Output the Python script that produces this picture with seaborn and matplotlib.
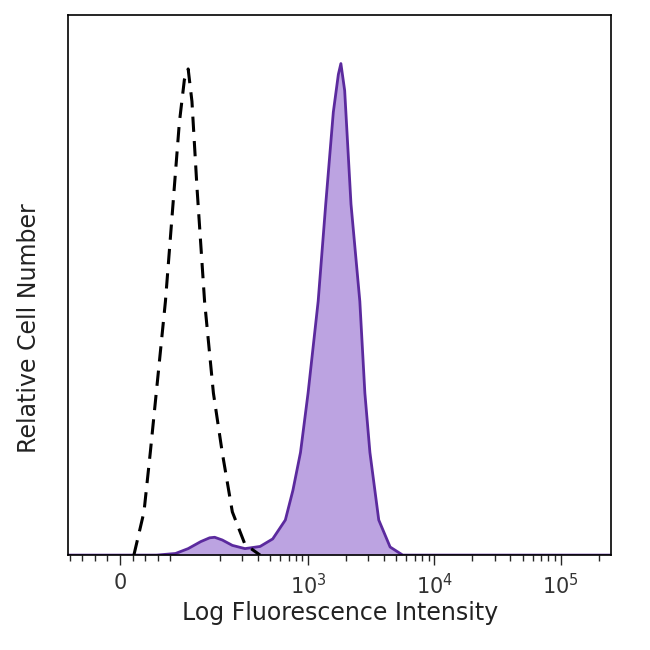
import matplotlib
matplotlib.use("Agg")
import matplotlib.pyplot as plt
import numpy as np
import seaborn as sns

sns.set_theme(style="white")

# x in display decades: 10^3 -> 3, 10^4 -> 4; "0" sits at 1.51 on the biexponential scale
iso_x = [1.62, 1.70, 1.75, 1.81, 1.87, 1.93, 1.98, 2.02, 2.05, 2.08, 2.12, 2.18, 2.25, 2.32, 2.40, 2.50, 2.62]
iso_y = [0.0, 0.08, 0.19, 0.33, 0.47, 0.65, 0.80, 0.88, 0.90, 0.84, 0.68, 0.47, 0.30, 0.19, 0.08, 0.02, 0.0]

stain_x = [1.10, 1.80, 1.95, 2.05, 2.15, 2.22, 2.26, 2.32, 2.40, 2.50, 2.62, 2.72, 2.82, 2.88, 2.94, 3.00, 3.08,
           3.14, 3.20, 3.24, 3.26, 3.29, 3.34, 3.41, 3.45, 3.49, 3.56, 3.65, 3.75, 5.40]
stain_y = [0.0, 0.0, 0.003, 0.012, 0.025, 0.032, 0.033, 0.028, 0.018, 0.012, 0.016, 0.03, 0.065, 0.12, 0.19, 0.30, 0.47,
           0.65, 0.82, 0.89, 0.91, 0.86, 0.65, 0.47, 0.30, 0.19, 0.065, 0.015, 0.0, 0.0]

tick_pos = [1.51, 3, 4, 5]
tick_labels = ["0", "$10^3$", "$10^4$", "$10^5$"]

fig, ax = plt.subplots(figsize=(6.5, 6.5), dpi=100)
ax.fill_between(stain_x, stain_y, color="#b99ee0", alpha=0.95, linewidth=0)
sns.lineplot(x=stain_x, y=stain_y, ax=ax, color="#5b2a9e", linewidth=2)
sns.lineplot(x=iso_x, y=iso_y, ax=ax, color="black", linewidth=2.2, linestyle=(0, (5, 3)))

ax.set_xlim(1.10, 5.40)
ax.set_ylim(0, 1.0)
ax.set_xticks(tick_pos)
ax.set_xticklabels(tick_labels, fontsize=15, color="#333333")
minor = [1.51 + d for d in np.linspace(-0.4, 0.4, 9)]
for dec in [2, 3, 4]:
    minor += list(dec + np.log10(np.arange(2, 10)))
minor += list(5 + np.log10(np.arange(2, 4)))
ax.set_xticks([m for m in minor if 1.1 < m < 5.4], minor=True)
ax.tick_params(axis="x", which="major", length=7, width=1, direction="out", bottom=True, pad=6)
ax.tick_params(axis="x", which="minor", length=4, width=1, direction="out", bottom=True)
ax.set_yticks([])
for s in ax.spines.values():
    s.set_color("black")
    s.set_linewidth(1.2)
ax.set_xlabel("Log Fluorescence Intensity", fontsize=17, color="#222222", labelpad=2)
ax.set_ylabel("Relative Cell Number", fontsize=17, color="#222222")
ax.yaxis.set_label_coords(-0.05, 0.42)
plt.subplots_adjust(left=0.105, right=0.94, top=0.977, bottom=0.146)
plt.savefig("out.png", dpi=100)
